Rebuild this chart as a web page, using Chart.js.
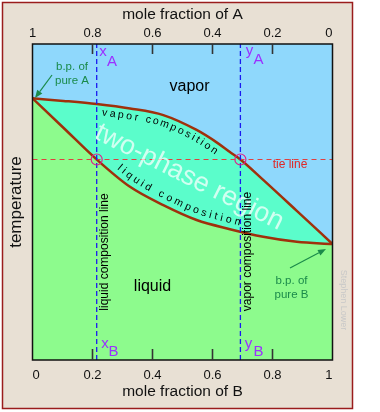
<!DOCTYPE html>
<html><head><meta charset="utf-8">
<script src="https://cdn.jsdelivr.net/npm/chart.js@4.4.0/dist/chart.umd.min.js"></script>
<style>html,body{margin:0;padding:0;background:#fff}canvas{display:block}</style>
</head><body>
<canvas id="c" width="380" height="412"></canvas>
<script>
// ---- data ----
const xTickValues = [0, 0.2, 0.4, 0.6, 0.8, 1];
const vaporX = [0, 0.103, 0.214, 0.325, 0.436, 0.547, 0.615, 0.658, 0.693, 0.769, 0.881, 1];
const vaporT = [82.8, 82.0, 81.0, 79.6, 77.5, 72.8, 68.8, 65.8, 63.45, 57.0, 47.2, 36.7];
const liquidX = [0, 0.103, 0.214, 0.325, 0.436, 0.547, 0.658, 0.769, 0.881, 1];
const liquidT = [82.8, 73.5, 63.45, 54.8, 49.0, 44.3, 41.4, 39.0, 37.4, 36.7];
const xA = 0.214;   // liquid composition
const yA = 0.693;   // vapor composition
const tieT = 63.45; // tie-line temperature
const tempMin = 0, tempMax = 100;

const C = {
  vaporBg: '#8FD8FC', twoPhase: '#5BFDCB', liquidBg: '#8DFB8D',
  curve: '#A0300C', beige: '#E8E0D4', frame: '#9A1C1C',
  blueDash: '#1A1AF0', redDash: '#E04040', circle: '#E0208A',
  purple: '#9B30FF', green: '#1A8A4A', tie: '#E02828', tick: '#333333'
};
Chart.defaults.font.family = "'Liberation Sans', Arial, sans-serif";

const pts = (xs, ys) => xs.map((x, i) => ({x, y: ys[i]}));

function pointAt(line, x) {
  return line.interpolate({x}, 'x');
}
function textOnCurve(ctx, line, text, startX, offset, spacing, font, color) {
  ctx.save();
  ctx.font = font; ctx.fillStyle = color;
  ctx.textAlign = 'center'; ctx.textBaseline = 'middle';
  let xc = startX;
  for (const ch of text) {
    const w = ctx.measureText(ch).width;
    const a0p = pointAt(line, xc - 1.5), a0q = pointAt(line, xc + 1.5);
    const a0 = Math.atan2(a0q.y - a0p.y, a0q.x - a0p.x);
    const mid = xc + (w / 2) * Math.cos(a0);
    const p1 = pointAt(line, mid - 2), p2 = pointAt(line, mid + 2);
    const a = Math.atan2(p2.y - p1.y, p2.x - p1.x);
    const p = pointAt(line, mid);
    ctx.save();
    ctx.translate(p.x - Math.sin(a) * offset, p.y + Math.cos(a) * offset);
    ctx.rotate(a);
    ctx.fillText(ch, 0, 0);
    ctx.restore();
    xc += (w + spacing) * Math.cos(a);
  }
  ctx.restore();
}
function txt(ctx, s, x, y, font, color, rot, align, base) {
  ctx.save();
  ctx.font = font; ctx.fillStyle = color;
  ctx.textAlign = align || 'center'; ctx.textBaseline = base || 'middle';
  ctx.translate(x, y); if (rot) ctx.rotate(rot);
  ctx.fillText(s, 0, 0);
  ctx.restore();
}
function arrow(ctx, x1, y1, x2, y2, color) {
  ctx.save();
  ctx.strokeStyle = color; ctx.fillStyle = color; ctx.lineWidth = 1.2;
  const a = Math.atan2(y2 - y1, x2 - x1), L = 8, W = 3.2;
  const bx = x2 - Math.cos(a) * L, by = y2 - Math.sin(a) * L;
  ctx.beginPath(); ctx.moveTo(x1, y1); ctx.lineTo(bx, by); ctx.stroke();
  ctx.beginPath(); ctx.moveTo(x2, y2);
  ctx.lineTo(bx - Math.sin(a) * W, by + Math.cos(a) * W);
  ctx.lineTo(bx + Math.sin(a) * W, by - Math.cos(a) * W);
  ctx.closePath(); ctx.fill();
  ctx.restore();
}

const deco = {
  id: 'deco',
  beforeDraw(chart) {
    const c = chart.ctx;
    c.save();
    c.fillStyle = '#fff'; c.fillRect(0, 0, chart.width, chart.height);
    c.fillStyle = C.beige; c.fillRect(2.5, 2.5, 350, 406);
    c.strokeStyle = C.frame; c.lineWidth = 1.5; c.strokeRect(2.5, 2.5, 350, 406);
    c.restore();
  },
  beforeDatasetsDraw(chart) {
    const a = chart.chartArea, c = chart.ctx;
    c.save(); c.fillStyle = C.vaporBg;
    c.fillRect(a.left, a.top, a.right - a.left, a.bottom - a.top);
    c.restore();
  },
  afterDatasetsDraw(chart) {
    const c = chart.ctx;
    const vLine = chart.getDatasetMeta(0).dataset;
    const lLine = chart.getDatasetMeta(1).dataset;
    txt(c, 'two-phase region', 186, 184, '27px "Liberation Sans", Arial, sans-serif',
        'rgba(255,255,255,0.72)', 26.5 * Math.PI / 180, 'center', 'alphabetic');
    textOnCurve(c, vLine, 'vapor composition', 103, 8, 2.6, '10.5px "Liberation Sans", Arial, sans-serif', '#000');
    textOnCurve(c, lLine, 'liquid composition', 113, -9, 3.3, '10.5px "Liberation Sans", Arial, sans-serif', '#000');
    const f16 = '16px "Liberation Sans", Arial, sans-serif';
    txt(c, 'vapor', 189.5, 87, f16, '#000');
    txt(c, 'liquid', 152.5, 287, f16, '#000');
    const f12 = '12px "Liberation Sans", Arial, sans-serif';
    txt(c, 'liquid composition line', 104.5, 252, f12, '#000', -Math.PI / 2);
    txt(c, 'vapor composition line', 248, 251.5, f12, '#000', -Math.PI / 2);
    txt(c, 'tie line', 290, 165, f12, C.tie);
    const f115 = '11.5px "Liberation Sans", Arial, sans-serif';
    txt(c, 'b.p. of', 72, 66.5, f115, C.green);
    txt(c, 'pure A', 72, 81, f115, C.green);
    txt(c, 'b.p. of', 291.5, 281, f115, C.green);
    txt(c, 'pure B', 291.5, 295, f115, C.green);
    arrow(c, 52, 75, 35, 98, C.green);
    arrow(c, 290, 268, 326, 249, C.green);
    const f15 = '15px "Liberation Sans", Arial, sans-serif';
    txt(c, 'x', 103, 52, f15, C.purple); txt(c, 'A', 112, 62, f15, C.purple);
    txt(c, 'y', 249.5, 51, f15, C.purple); txt(c, 'A', 258.5, 60, f15, C.purple);
    txt(c, 'x', 105, 344, f15, C.purple); txt(c, 'B', 113.5, 352, f15, C.purple);
    txt(c, 'y', 248.5, 344, f15, C.purple); txt(c, 'B', 258.5, 352, f15, C.purple);
    txt(c, 'Stephen Lower', 343, 300, '9px "Liberation Sans", Arial, sans-serif', '#C8C8C8', Math.PI / 2);
  },
  afterDraw(chart) {
    const c = chart.ctx, a = chart.chartArea;
    c.save();
    c.setLineDash([]);
    c.strokeStyle = '#111'; c.lineWidth = 1.5;
    c.strokeRect(a.left, a.top, a.right - a.left, a.bottom - a.top);
    // inward tick marks at the scales' tick positions
    c.strokeStyle = C.tick; c.lineWidth = 1.6;
    const sx = chart.scales.x, sx2 = chart.scales.x2;
    for (const v of xTickValues) {
      if (v <= 0 || v >= 1) continue;
      const p = sx.getPixelForValue(v);
      c.beginPath(); c.moveTo(p, a.bottom); c.lineTo(p, a.bottom - 11); c.stroke();
      const q = sx2.getPixelForValue(v);
      c.beginPath(); c.moveTo(q, a.top); c.lineTo(q, a.top + 10); c.stroke();
    }
    c.restore();
  }
};

const NB = '\u00a0\u00a0';
const fmtB = v => (v === 0 ? NB + '0' : v === 1 ? '1' + NB : v.toFixed(1));
const fmtA = v => (v === 0 ? '0' + NB : v === 1 ? '1' : v.toFixed(1));
const xAxisBase = (pos, reverse, pad, titlePad, fitH, fmt) => ({
  type: 'linear', position: pos, min: 0, max: 1, reverse, z: 1,
  afterBuildTicks: s => { s.ticks = xTickValues.map(v => ({value: v})); },
  ticks: {callback: fmt, font: {size: 13}, color: '#111', padding: pad, maxRotation: 0, autoSkip: false},
  grid: {display: true, drawOnChartArea: false, drawTicks: true, tickLength: -10, tickColor: 'rgba(0,0,0,0)', color: 'rgba(0,0,0,0)'},
  border: {display: false},
  title: {display: true, text: pos === 'top' ? 'mole fraction of A' : 'mole fraction of B', font: {size: 15.5}, color: '#111', padding: titlePad},
  afterFit: s => { s.height = fitH; }
});

new Chart(document.getElementById('c'), {
  type: 'line',
  data: {
    datasets: [
      {label: 'vapor', data: pts(vaporX, vaporT), borderColor: C.curve, borderWidth: 2.5, pointRadius: 0,
       cubicInterpolationMode: 'monotone', fill: 1, backgroundColor: C.twoPhase, order: 3},
      {label: 'liquid', data: pts(liquidX, liquidT), borderColor: C.curve, borderWidth: 2.5, pointRadius: 0,
       cubicInterpolationMode: 'monotone', fill: 'origin', backgroundColor: C.liquidBg, order: 2},
      {label: 'xA', data: [{x: xA, y: tempMin}, {x: xA, y: tempMax}], borderColor: C.blueDash, borderWidth: 1.3,
       borderDash: [5, 3], pointRadius: 0, fill: false, order: 1},
      {label: 'yA', data: [{x: yA, y: tempMin}, {x: yA, y: tempMax}], borderColor: C.blueDash, borderWidth: 1.3,
       borderDash: [5, 3], pointRadius: 0, fill: false, order: 1},
      {label: 'tie', data: [{x: 0, y: tieT}, {x: 1, y: tieT}], borderColor: C.redDash, borderWidth: 1.2,
       borderDash: [5, 4], pointRadius: 0, fill: false, order: 1},
      {label: 'pts', data: [{x: xA, y: tieT}, {x: yA, y: tieT}], showLine: false, pointRadius: 5.5,
       pointBorderColor: C.circle, pointBackgroundColor: 'rgba(0,0,0,0)', pointBorderWidth: 1.2, fill: false, order: 0}
    ]
  },
  options: {
    responsive: false, animation: false, events: [],
    layout: {padding: {left: 0, right: 47.5, top: 0, bottom: 0}},
    plugins: {legend: {display: false}, tooltip: {enabled: false}, filler: {propagate: false}},
    scales: {
      x: xAxisBase('bottom', false, 17.2, {top: 0, bottom: 10.7}, 52, fmtB),
      x2: xAxisBase('top', true, 13.2, {top: 5.7, bottom: 0}, 44, fmtA),
      y: {type: 'linear', position: 'left', min: tempMin, max: tempMax,
          ticks: {display: false}, grid: {display: false, drawTicks: false}, border: {display: false},
          title: {display: true, text: 'temperature', font: {size: 17}, color: '#111', padding: {top: 6.3, bottom: 0}},
          afterFit: s => { s.width = 32.5; }}
    }
  },
  plugins: [deco]
});
</script>
</body></html>
